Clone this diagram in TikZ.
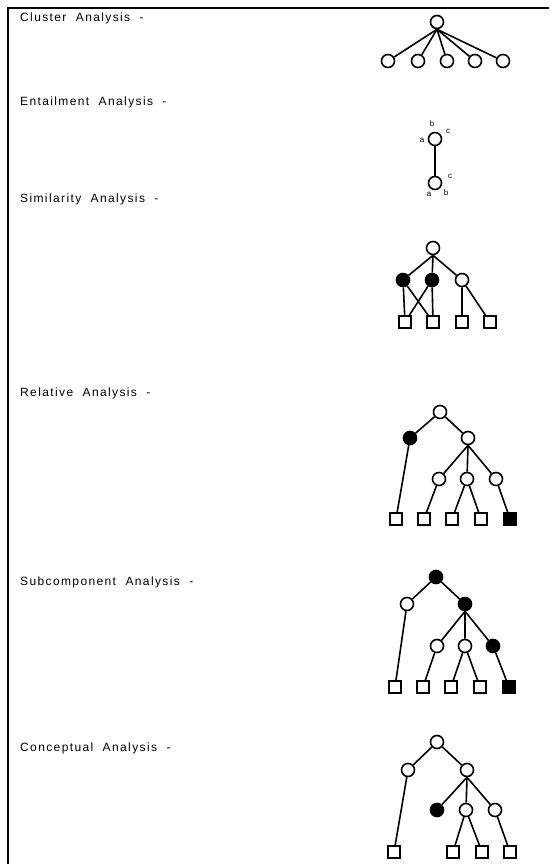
\documentclass[tikz,border=0pt]{standalone}
\usepackage{fontspec}
\setmainfont{Liberation Sans}[LetterSpace=11.5]
\begin{document}
\begin{tikzpicture}[x=1pt,y=-1pt,
  on/.style={circle,draw,line width=1.6pt,minimum size=13pt,inner sep=0pt,fill=white},
  fn/.style={circle,draw,line width=1.6pt,minimum size=13pt,inner sep=0pt,fill=black},
  sq/.style={rectangle,draw,line width=1.6pt,minimum size=12pt,inner sep=0pt,fill=white},
  fsq/.style={rectangle,draw,line width=1.6pt,minimum size=12pt,inner sep=0pt,fill=black},
  ed/.style={line width=1.6pt},
  lbl/.style={anchor=west,inner sep=0pt,font=\fontsize{12}{14}\selectfont},
  tl/.style={inner sep=0pt,font=\fontsize{8}{9}\selectfont}]
\useasboundingbox (0,0) rectangle (549,864);
% frame
\coordinate (ftl) at (8,8);
\coordinate (ftr) at (549,8);
\coordinate (fbl) at (8,864);
\draw[line width=1.3pt] (fbl) -- (ftl) -- (ftr);
% labels
\node[lbl] (t1) at (20,18) {Cluster\ \ Analysis\ \ -};
\node[lbl] (t2) at (20,102) {Entailment\ \ Analysis\ \ -};
\node[lbl] (t3) at (20,199) {Similarity\ \ Analysis\ \ -};
\node[lbl] (t4) at (20,393) {Relative\ \ Analysis\ \ -};
\node[lbl] (t5) at (20,582) {Subcomponent\ \ Analysis\ \ -};
\node[lbl] (t6) at (20,748) {Conceptual\ \ Analysis\ \ -};
% cluster
\node[on] (c0) at (437,22) {};
\foreach \i/\x in {1/388,2/418,3/447,4/475,5/503}{
  \node[on] (c\i) at (\x,61) {};
  \draw[ed] (c0.south) -- (c\i);
}
% entailment
\node[on] (e1) at (435,139) {};
\node[on] (e2) at (435,183) {};
\draw[ed] (e1) -- (e2);
\node[tl] (e1b) at (432,124) {b};
\node[tl] (e1c) at (448,131) {c};
\node[tl] (e1a) at (422,140) {a};
\node[tl] (e2c) at (450,176) {c};
\node[tl] (e2a) at (429,194) {a};
\node[tl] (e2b) at (446,193) {b};
% similarity
\node[on] (s0) at (433,248) {};
\node[fn] (s1) at (403,280) {};
\node[fn] (s2) at (432,280) {};
\node[on] (s3) at (462,280) {};
\node[sq] (q1) at (405,322) {};
\node[sq] (q2) at (433,322) {};
\node[sq] (q3) at (462,322) {};
\node[sq] (q4) at (490,322) {};
\draw[ed] (s0.south) -- (s1) (s0.south) -- (s2) (s0.south) -- (s3);
\draw[ed] (s1) -- (q1) (s1) -- (q2) (s2) -- (q1) (s2) -- (q2) (s3) -- (q3) (s3) -- (q4);
% relative
\node[on] (r0) at (440,412) {};
\node[fn] (r1) at (410,438) {};
\node[on] (r2) at (468,438) {};
\node[on] (r3) at (439,479) {};
\node[on] (r4) at (467,479) {};
\node[on] (r5) at (496,479) {};
\node[sq] (rq1) at (396,519) {};
\node[sq] (rq2) at (424,519) {};
\node[sq] (rq3) at (452,519) {};
\node[sq] (rq4) at (481,519) {};
\node[fsq] (rq5) at (510,519) {};
\draw[ed] (r0) -- (r1) (r0) -- (r2) (r1) -- (rq1) (r2.south) -- (r3) (r2.south) -- (r4) (r2.south) -- (r5)
  (r3) -- (rq2) (r4) -- (rq3) (r4) -- (rq4) (r5) -- (rq5);
% subcomponent
\node[fn] (u0) at (436,577) {};
\node[on] (u1) at (407,604) {};
\node[fn] (u2) at (465,604) {};
\node[on] (u3) at (437,646) {};
\node[on] (u4) at (465,646) {};
\node[fn] (u5) at (493,646) {};
\node[sq] (uq1) at (395,687) {};
\node[sq] (uq2) at (423,687) {};
\node[sq] (uq3) at (451,687) {};
\node[sq] (uq4) at (480,687) {};
\node[fsq] (uq5) at (509,687) {};
\draw[ed] (u0) -- (u1) (u0) -- (u2) (u1) -- (uq1) (u2.south) -- (u3) (u2.south) -- (u4) (u2.south) -- (u5)
  (u3) -- (uq2) (u4) -- (uq3) (u4) -- (uq4) (u5) -- (uq5);
% conceptual
\node[on] (k0) at (437,742) {};
\node[on] (k1) at (408,770) {};
\node[on] (k2) at (467,770) {};
\node[fn] (k3) at (437,810) {};
\node[on] (k4) at (466,810) {};
\node[on] (k5) at (495,810) {};
\node[sq] (kq1) at (394,852) {};
\node[sq] (kq2) at (453,852) {};
\node[sq] (kq3) at (482,852) {};
\node[sq] (kq4) at (510,852) {};
\draw[ed] (k0) -- (k1) (k0) -- (k2) (k1) -- (kq1) (k2.south) -- (k3) (k2.south) -- (k4) (k2.south) -- (k5)
  (k4) -- (kq2) (k4) -- (kq3) (k5) -- (kq4);
\end{tikzpicture}
\end{document}
